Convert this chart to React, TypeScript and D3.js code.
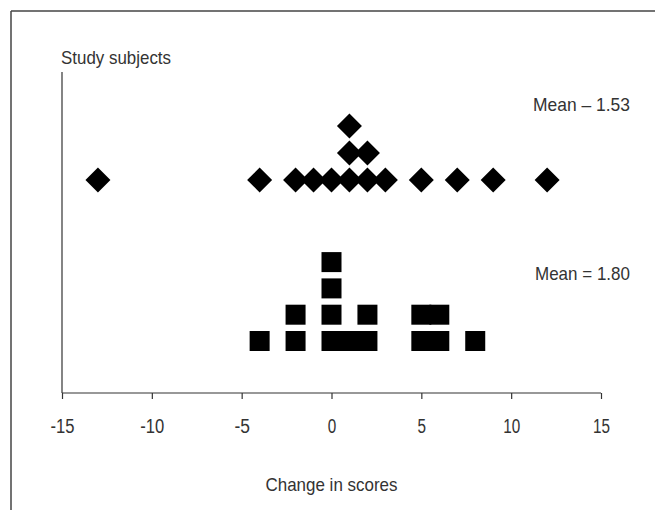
import React, { useEffect, useRef } from 'react';
import * as d3 from 'd3';

// change in scores, one entry per study subject
const diamondScores = [-13, -4, -2, -1, 0, 1, 1, 1, 2, 2, 3, 5, 7, 9, 12];
const squareScores = [-4, -2, -2, 0, 0, 0, 0, 1, 2, 2, 5, 5, 6, 6, 8];
const xTicks = [-15, -10, -5, 0, 5, 10, 15];
const meanLabels = ['Mean \u2013 1.53', 'Mean = 1.80'];

const FONT = "'Liberation Sans', Arial, sans-serif";
const INK = '#333';

// give each repeated value a stack level (0 = bottom)
function stack(values: number[]) {
  const seen: Record<number, number> = {};
  return values.map((v) => {
    const lvl = seen[v] || 0;
    seen[v] = lvl + 1;
    return { v, lvl };
  });
}

export default function App() {
  const ref = useRef<SVGSVGElement>(null);

  useEffect(() => {
    const svg = d3.select(ref.current);
    svg.selectAll('*').remove();

    const x = d3.scaleLinear().domain([-15, 15]).range([62, 601]);
    const axisY = 393;

    // condensed-looking text: squeeze glyphs to a given width
    const label = (str: string, tx: number, ty: number, w: number, anchor: string, size = 19) =>
      svg.append('text').attr('x', tx).attr('y', ty).attr('text-anchor', anchor)
        .attr('textLength', w).attr('lengthAdjust', 'spacingAndGlyphs')
        .attr('font-family', FONT).attr('font-size', size).attr('fill', INK)
        .text(str);

    // frame
    svg.append('line').attr('x1', 11).attr('x2', 655).attr('y1', 11).attr('y2', 11)
      .attr('stroke', '#444').attr('stroke-width', 1.5);
    svg.append('line').attr('x1', 11).attr('x2', 11).attr('y1', 11).attr('y2', 510)
      .attr('stroke', '#444').attr('stroke-width', 1.5);

    // y axis
    svg.append('line').attr('x1', 62).attr('x2', 62).attr('y1', 72).attr('y2', axisY)
      .attr('stroke', INK).attr('stroke-width', 1.2);
    label('Study subjects', 61, 64, 110, 'start');

    // x axis
    const xAxis = d3.axisBottom(x).tickValues(xTicks).tickSize(6).tickFormat((d) => String(d));
    const gx = svg.append('g').attr('transform', `translate(0,${axisY})`).call(xAxis);
    gx.select('.domain').attr('stroke', INK).attr('stroke-width', 1.2).attr('d', 'M62,0H601');
    gx.selectAll('.tick line').attr('stroke', INK).attr('stroke-width', 1.2);
    gx.selectAll('.tick text')
      .attr('y', 40).attr('dy', 0)
      .attr('font-family', FONT).attr('font-size', 20).attr('fill', INK)
      .attr('textLength', (d: any) => String(d).replace('-', '').length * 8.5 + (d < 0 ? 7 : 0))
      .attr('lengthAdjust', 'spacingAndGlyphs');

    label('Change in scores', x(0), 491, 132, 'middle');

    // diamonds
    const dBase = 180, dStep = 27, dr = 12.5;
    svg.append('g').selectAll('path').data(stack(diamondScores)).enter().append('path')
      .attr('transform', (d) => `translate(${x(d.v)},${dBase - d.lvl * dStep})`)
      .attr('d', `M0,${-dr}L${dr},0L0,${dr}L${-dr},0Z`)
      .attr('fill', '#000');

    // squares
    const sBase = 341, sStep = 26.3, ss = 20;
    svg.append('g').selectAll('rect').data(stack(squareScores)).enter().append('rect')
      .attr('x', (d) => x(d.v) - ss / 2)
      .attr('y', (d) => sBase - d.lvl * sStep - ss / 2)
      .attr('width', ss).attr('height', ss)
      .attr('fill', '#000');

    // mean labels
    label(meanLabels[0], 630, 111, 97, 'end');
    label(meanLabels[1], 630, 280, 95, 'end');
  }, []);

  return (
    <svg ref={ref} width={655} height={510}
      style={{ position: 'absolute', left: 0, top: 0, background: '#fff' }} />
  );
}
